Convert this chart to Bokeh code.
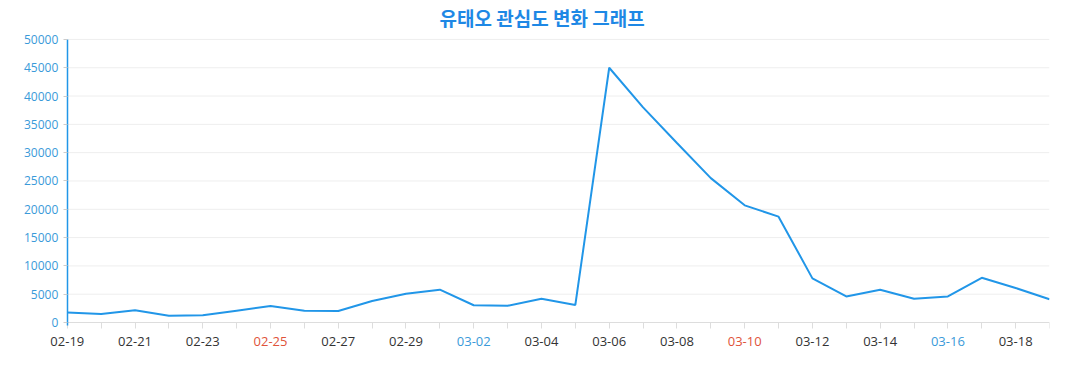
from bokeh.plotting import figure
from bokeh.models import FixedTicker, Range1d, NumeralTickFormatter, ColumnDataSource
from bokeh.core.properties import value
from bokeh.embed import file_html
from bokeh.resources import INLINE

dates = ["02-19", "02-20", "02-21", "02-22", "02-23", "02-24", "02-25", "02-26",
         "02-27", "02-28", "02-29", "03-01", "03-02", "03-03", "03-04", "03-05",
         "03-06", "03-07", "03-08", "03-09", "03-10", "03-11", "03-12", "03-13",
         "03-14", "03-15", "03-16", "03-17", "03-18", "03-19"]
values = [1750, 1500, 2150, 1200, 1300, 2100, 2900, 2100, 2050, 3800, 5100,
          5800, 3050, 2950, 4200, 3100, 45000, 38000, 31700, 25500, 20700,
          18700, 7800, 4600, 5800, 4200, 4600, 7900, 6100, 4100]
red_days = ["02-25", "03-10"]
blue_days = ["03-02", "03-16"]
y_ticks = [0, 5000, 10000, 15000, 20000, 25000, 30000, 35000, 40000, 45000, 50000]
title_text = "유태오 관심도 변화 그래프"

LINE = "#2196E8"
BLUE_TXT = "#3A9AD9"
RED_TXT = "#E0533A"
DARK_TXT = "#333333"
FONT = "Open Sans"

xs = list(range(len(dates)))
last = len(dates) - 1

p = figure(output_backend="svg", toolbar_location=None,
           frame_width=1033, frame_height=325,
           min_border_left=16, min_border_right=20, min_border_top=22, min_border_bottom=5,
           x_range=Range1d(-1.5, last), y_range=Range1d(-6000, 51400),
           title=title_text)
p.outline_line_color = None
p.background_fill_color = "white"
p.border_fill_color = "white"

p.title.align = "left"
p.title.offset = 423
p.title.standoff = 2
p.title.text_font = "Noto Sans CJK KR"
p.title.text_font_style = "bold"
p.title.text_font_size = "19px"
p.title.text_color = "#1E88E5"

# horizontal grid lines, from the y axis to the right edge
p.segment(x0=[0] * len(y_ticks), y0=y_ticks, x1=[last] * len(y_ticks), y1=y_ticks,
          line_color="#EEEEEE", line_width=1)

p.line(xs, values, line_color=LINE, line_width=2)

# x axis at y=0
xa = p.xaxis[0]
xa.fixed_location = 0
xa.bounds = (0, last)
xa.ticker = FixedTicker(ticks=xs)
overrides = {}
for i, d in enumerate(dates):
    overrides[i] = d if (i % 2 == 0 and d not in red_days and d not in blue_days) else ""
xa.major_label_overrides = overrides
xa.major_label_text_color = DARK_TXT
xa.major_label_text_font = FONT
xa.major_label_text_font_size = "13px"
xa.major_label_standoff = 8
xa.axis_line_color = "#DDDDDD"
xa.major_tick_line_color = "#DDDDDD"
xa.major_tick_out = 6
xa.major_tick_in = 0
xa.minor_tick_line_color = None

# weekend labels in colour
lab_x, lab_t, lab_c = [], [], []
for i, d in enumerate(dates):
    if i % 2 == 0 and (d in red_days or d in blue_days):
        lab_x.append(i)
        lab_t.append(d)
        lab_c.append(RED_TXT if d in red_days else BLUE_TXT)
src = ColumnDataSource(dict(x=lab_x, y=[0] * len(lab_x), t=lab_t, c=lab_c))
p.text(x="x", y="y", text="t", source=src, text_color="c", text_align="center",
       text_baseline="top", y_offset=14, text_font=value(FONT), text_font_size="13px")

# y axis at x=0
ya = p.yaxis[0]
ya.fixed_location = 0
ya.ticker = FixedTicker(ticks=y_ticks)
ya.formatter = NumeralTickFormatter(format="0")
ya.bounds = (-500, 50000)
ya.axis_line_color = LINE
ya.axis_line_width = 1.5
ya.major_tick_line_color = "#CCCCCC"
ya.major_tick_out = 4
ya.major_tick_in = 0
ya.minor_tick_line_color = None
ya.major_label_text_color = BLUE_TXT
ya.major_label_text_font = FONT
ya.major_label_text_font_size = "12px"
ya.major_label_standoff = 5

p.xgrid.grid_line_color = None
p.ygrid.grid_line_color = None

open("out.html", "w").write(file_html(p, INLINE))
